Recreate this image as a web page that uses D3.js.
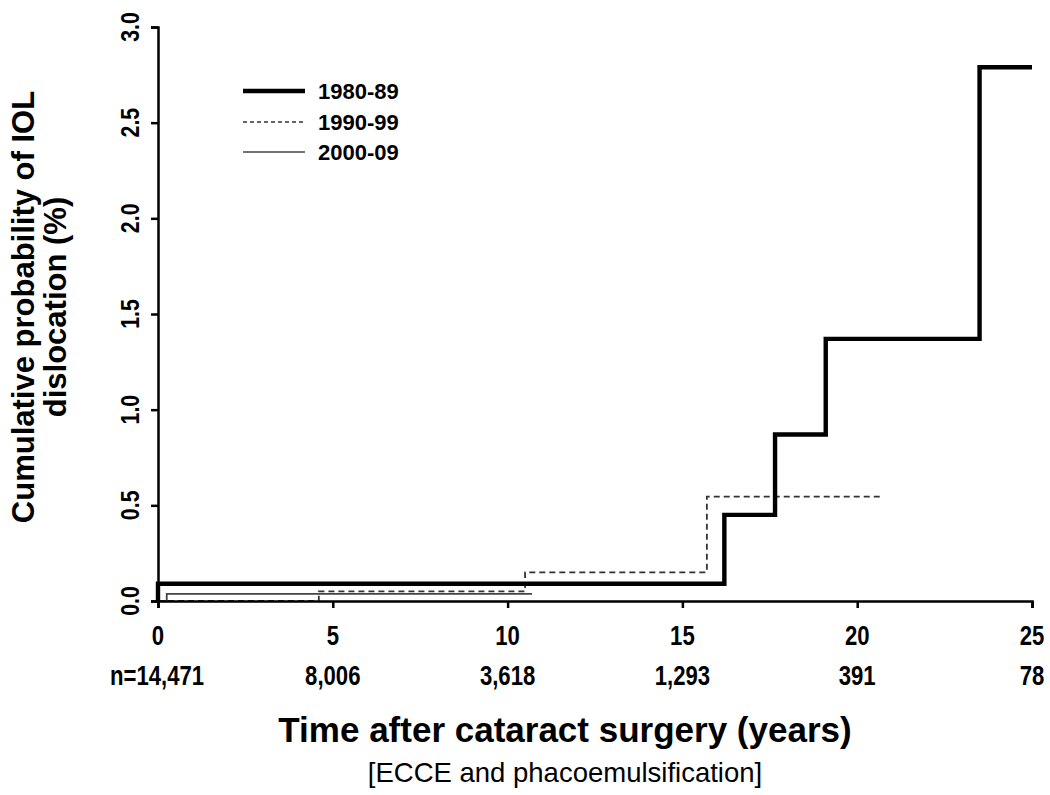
<!DOCTYPE html>
<html>
<head>
<meta charset="utf-8">
<script src="https://cdn.jsdelivr.net/npm/d3@7"></script>
<style>
  html, body { margin: 0; padding: 0; background: #fff; }
  svg { display: block; }
</style>
</head>
<body>
<svg id="chart" width="1050" height="795"></svg>
<script>
// ---- data ----
const seriesNames = ["1980-89", "1990-99", "2000-09"];
const times1980 = [0, 0, 16.2, 17.65, 19.1, 23.5, 25];
const values1980 = [0, 0.09, 0.45, 0.87, 1.37, 2.79, 2.79];
const times1990 = [0, 4.6, 10.5, 15.7, 20.7];
const values1990 = [0, 0.05, 0.15, 0.545, 0.545];
const times2000 = [0, 0.25, 10.7];
const values2000 = [0, 0.037, 0.037];
const xTicks = [0, 5, 10, 15, 20, 25];
const yTicks = [0, 0.5, 1.0, 1.5, 2.0, 2.5, 3.0];
const atRisk = ["n=14,471", "8,006", "3,618", "1,293", "391", "78"];

const svg = d3.select("#chart");
const x = d3.scaleLinear().domain([0, 25]).range([158, 1032]);
const y = d3.scaleLinear().domain([0, 3]).range([601, 27]);

const styles = [
  { w: 4.4, dash: null, color: "#000" },
  { w: 1.8, dash: "6,4", color: "#333" },
  { w: 1.8, dash: null, color: "#444" }
];
const series = [
  times1980.map((t, i) => ({ t, v: values1980[i] })),
  times1990.map((t, i) => ({ t, v: values1990[i] })),
  times2000.map((t, i) => ({ t, v: values2000[i] }))
];

const line = d3.line().x(d => x(d.t)).y(d => y(d.v)).curve(d3.curveStepAfter);

[2, 1, 0].forEach(i => {
  svg.append("path")
    .datum(series[i])
    .attr("d", line)
    .attr("fill", "none")
    .attr("stroke", styles[i].color)
    .attr("stroke-width", styles[i].w)
    .attr("stroke-dasharray", styles[i].dash)
    .attr("stroke-linejoin", "miter")
    .attr("stroke-linecap", "butt");
});

const fontB = "'Liberation Sans', Arial, sans-serif";
const narrow = 0.82;

const xAxis = svg.append("g").attr("transform", `translate(0,${y(0)})`)
  .call(d3.axisBottom(x).tickValues(xTicks).tickSize(7).tickFormat(""));
const yAxis = svg.append("g").attr("transform", `translate(${x(0)},0)`)
  .call(d3.axisLeft(y).tickValues(yTicks).tickSize(7).tickFormat(""));
[xAxis, yAxis].forEach(g => {
  g.select(".domain").attr("stroke", "#000").attr("stroke-width", 2.5);
  g.selectAll(".tick line").attr("stroke", "#000").attr("stroke-width", 2.5);
});

// x tick labels (condensed)
svg.append("g").selectAll("text").data(xTicks).join("text")
  .attr("transform", d => `translate(${x(d)},645) scale(${narrow},1)`)
  .attr("text-anchor", "middle")
  .attr("font-family", fontB).attr("font-weight", "bold").attr("font-size", 27)
  .text(d => d);

// at-risk numbers (condensed)
svg.append("g").selectAll("text").data(atRisk).join("text")
  .attr("transform", (d, i) => `translate(${i === 0 ? 110 : x(xTicks[i])},685) scale(${narrow},1)`)
  .attr("text-anchor", (d, i) => i === 0 ? "start" : "middle")
  .attr("font-family", fontB).attr("font-weight", "bold").attr("font-size", 27)
  .text(d => d);

// y tick labels (rotated, condensed)
svg.append("g").selectAll("text").data(yTicks).join("text")
  .attr("transform", d => `translate(139,${y(d)}) rotate(-90) scale(${narrow},1)`)
  .attr("text-anchor", "middle")
  .attr("font-family", fontB).attr("font-weight", "bold").attr("font-size", 26)
  .text(d => d.toFixed(1));

// y axis title
const yt = svg.append("text")
  .attr("transform", "translate(0,307) rotate(-90)")
  .attr("text-anchor", "middle")
  .attr("font-family", fontB).attr("font-weight", "bold").attr("font-size", 31);
yt.append("tspan").attr("x", 0).attr("y", 34).text("Cumulative probability of IOL");
yt.append("tspan").attr("x", 0).attr("y", 66).text("dislocation (%)");

// x axis title & subtitle
svg.append("text").attr("x", 565).attr("y", 742)
  .attr("text-anchor", "middle")
  .attr("font-family", fontB).attr("font-weight", "bold").attr("font-size", 35)
  .text("Time after cataract surgery (years)");
svg.append("text").attr("x", 565).attr("y", 782)
  .attr("text-anchor", "middle")
  .attr("font-family", fontB).attr("font-size", 27.5)
  .text("[ECCE and phacoemulsification]");

// legend
const legY = [91, 122, 152];
const leg = svg.append("g");
seriesNames.forEach((name, i) => {
  leg.append("line")
    .attr("x1", 243).attr("x2", 305).attr("y1", legY[i]).attr("y2", legY[i])
    .attr("stroke", styles[i].color)
    .attr("stroke-width", i === 0 ? 4.4 : 1.6)
    .attr("stroke-dasharray", i === 1 ? "4,3" : null);
  leg.append("text")
    .attr("x", 318).attr("y", legY[i] + 8)
    .attr("font-family", fontB).attr("font-weight", "bold").attr("font-size", 22)
    .text(name);
});
</script>
</body>
</html>
